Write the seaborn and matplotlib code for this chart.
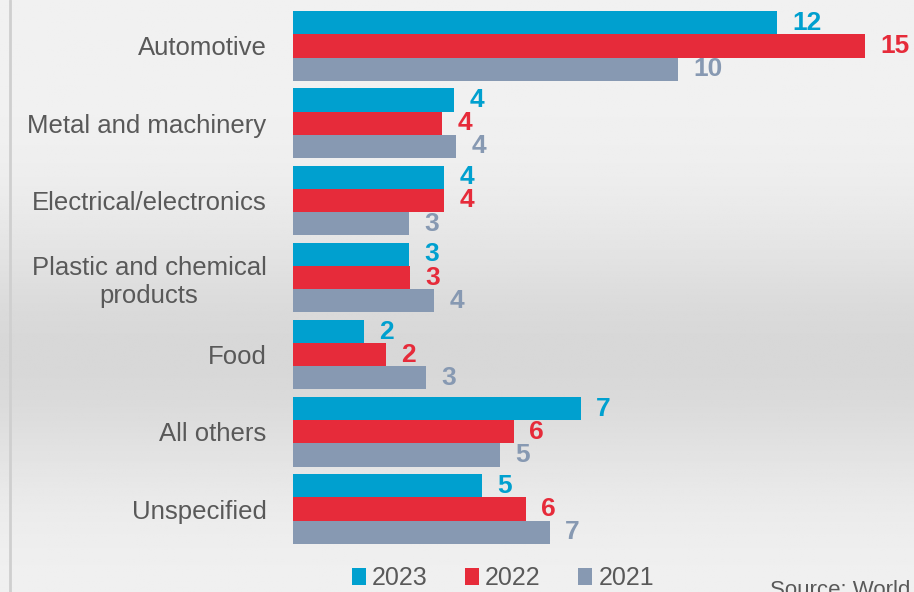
import numpy as np
import pandas as pd
import seaborn as sns
import matplotlib.pyplot as plt

# Categories and values
sectors = ["Automotive", "Metal and machinery", "Electrical/electronics",
           "Plastic and chemical\nproducts", "Food", "All others", "Unspecified"]
years = ["2023", "2022", "2021"]
vals_2023 = [12.41, 4.13, 3.87, 2.97, 1.82, 7.38, 4.85]
vals_2022 = [14.67, 3.82, 3.87, 3.00, 2.38, 5.67, 5.97]
vals_2021 = [9.87, 4.18, 2.97, 3.62, 3.41, 5.31, 6.59]
colors = ["#00A0CF", "#E62B3A", "#8799B2"]

df = pd.DataFrame({
    "Sector": sectors * 3,
    "Year": [y for y in years for _ in sectors],
    "Value": vals_2023 + vals_2022 + vals_2021,
})

sns.set_style("white")
plt.rcParams["font.family"] = ["Liberation Sans", "DejaVu Sans"]

fig = plt.figure(figsize=(9.14, 5.92), dpi=100)

# gradient background
bg = fig.add_axes([0, 0, 1, 1], zorder=-10)
yy = np.linspace(0, 1, 300)
shade = 0.945 - 0.10 * np.exp(-((yy - 0.60) / 0.22) ** 2)
bg.imshow(np.tile(shade[:, None], (1, 10)), cmap="gray", vmin=0, vmax=1,
          aspect="auto", extent=[0, 1, 0, 1], origin="upper")
bg.axvline(0.011, color="#cfcfcf", lw=2)
bg.set_xlim(0, 1)
bg.set_ylim(0, 1)
bg.axis("off")

ax = fig.add_axes([293 / 914, 1 - 560 / 592, 621 / 914, 560 / 592])
ax.patch.set_alpha(0)
sns.barplot(data=df, y="Sector", x="Value", hue="Year", palette=colors,
            orient="h", width=0.9, saturation=1, linewidth=0, ax=ax)

ax.set_xlim(0, 621 / 39)
ax.set_ylim(6.66, -0.596)
for side in ax.spines.values():
    side.set_visible(False)
ax.set_xticks([])
ax.set_xlabel("")
ax.set_ylabel("")
ax.tick_params(axis="y", length=0, pad=19, labelsize=18.5, labelcolor="#595959")
for lab in ax.get_yticklabels():
    lab.set_multialignment("center")

for cont, c in zip(ax.containers, colors):
    ax.bar_label(cont, fmt="%.0f", padding=11, color=c, fontsize=19,
                 fontweight="bold")

handles, labels = ax.get_legend_handles_labels()
ax.get_legend().remove()
fig.legend(handles, labels, loc="center", bbox_to_anchor=(503 / 914, 1 - 578 / 592),
           ncol=3, frameon=False, fontsize=18, handlelength=0.55, handleheight=0.7,
           handletextpad=0.25, columnspacing=1.5, labelcolor="#595959")

fig.text(770 / 914, 1 - 590 / 592, "Source: World Bank", fontsize=16,
         color="#595959", ha="left", va="center")

plt.savefig("out.png", dpi=100)
